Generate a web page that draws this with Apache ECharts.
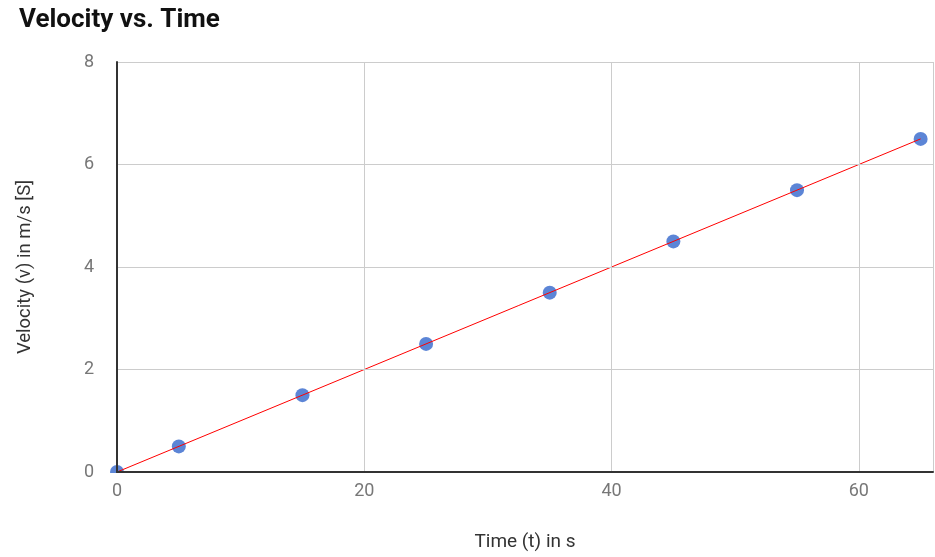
<!DOCTYPE html>
<html><head><meta charset="utf-8">
<script src="https://cdn.jsdelivr.net/npm/echarts@6/dist/echarts.min.js"></script>
<style>html,body{margin:0;padding:0;background:#fff}#c{width:935px;height:557px}</style>
</head><body><div id="c"></div>
<script>
const timeValues = [0, 5, 15, 25, 35, 45, 55, 65];
const velocityValues = [0, 0.5, 1.5, 2.5, 3.5, 4.5, 5.5, 6.5];
const trendTime = [0, 65];
const trendVelocity = [0, 6.5];
const xTicks = [0, 20, 40, 60];
const yTicks = [0, 2, 4, 6, 8];

const chart = echarts.init(document.getElementById('c'));
chart.setOption({
  animation: false,
  backgroundColor: '#fff',
  title: {
    text: 'Velocity vs. Time', left: 14, top: 2,
    textStyle: {fontFamily: 'Roboto', fontWeight: 'bold', fontSize: 26, color: '#111'}
  },
  grid: {left: 117, right: 2, top: 62, bottom: 85, containLabel: false, outerBoundsMode: 'none'},
  xAxis: {
    type: 'value', min: 0, max: 66, interval: 20,
    name: 'Time (t) in s', nameLocation: 'middle', nameGap: 61,
    nameTextStyle: {fontFamily: 'Roboto', fontSize: 19, color: '#333'},
    axisLine: {show: true, onZero: false, lineStyle: {color: '#333', width: 2}},
    axisTick: {show: false},
    axisLabel: {fontFamily: 'Roboto', fontSize: 18, color: '#777', margin: 10,
      formatter: v => xTicks.includes(v) ? String(v) : ''},
    splitLine: {show: true, lineStyle: {color: '#ccc', width: 1}},
    z: 5
  },
  yAxis: {
    type: 'value', min: 0, max: 8, interval: 2,
    name: 'Velocity (v) in m/s [S]', nameLocation: 'middle', nameGap: 82,
    nameTextStyle: {fontFamily: 'Roboto', fontSize: 18.5, color: '#333'},
    axisLine: {show: true, onZero: false, lineStyle: {color: '#333', width: 2}},
    axisTick: {show: false},
    axisLabel: {fontFamily: 'Roboto', fontSize: 18, color: '#777', margin: 23,
      formatter: v => yTicks.includes(v) ? String(v) : ''},
    splitLine: {show: true, lineStyle: {color: '#ccc', width: 1}},
    z: 5
  },
  graphic: [{
    type: 'rect', z: 3, silent: true,
    shape: {x: 100, y: 473, width: 835, height: 10},
    style: {fill: '#fff'}
  }],
  series: [
    {
      type: 'scatter', z: 1, symbolSize: 14, clip: false,
      itemStyle: {color: '#3366cc'},
      data: timeValues.map((t, i) => [t, velocityValues[i]])
    },
    {
      type: 'line', z: 2, symbol: 'none', clip: false,
      lineStyle: {color: '#ff0000', width: 1},
      data: trendTime.map((t, i) => [t, trendVelocity[i]])
    }
  ]
});
</script></body></html>
